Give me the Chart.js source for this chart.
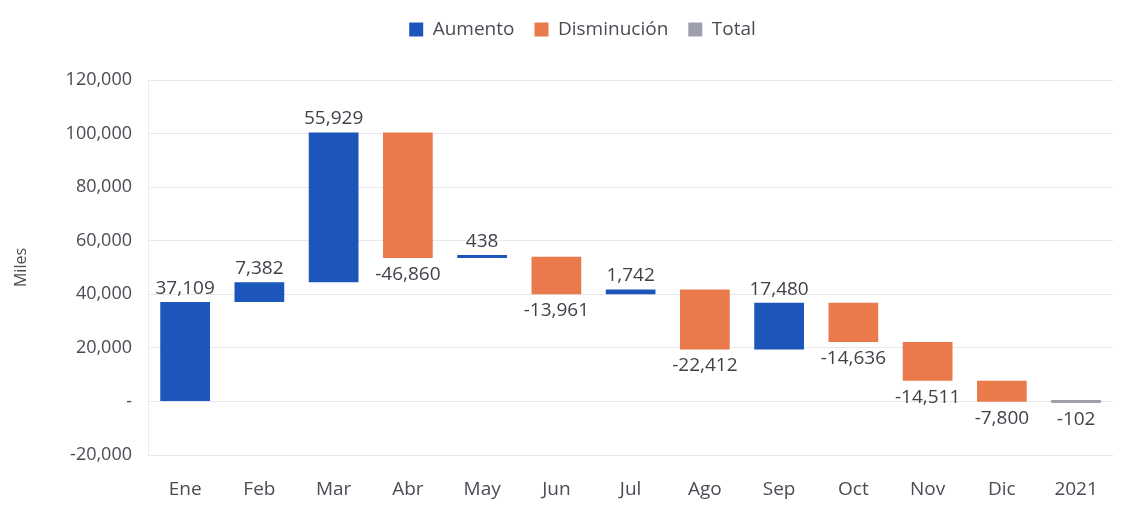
<!DOCTYPE html>
<html>
<head>
  <title>Cascada mensual</title>
  <style>
    body { margin: 0; background: #ffffff; }
    #wrap { width: 1121px; height: 505px; }
  </style>
  <script src="https://cdn.jsdelivr.net/npm/chart.js"></script>
</head>
<body>
  <div id="wrap"><canvas id="chart" width="1121" height="505"></canvas></div>

  <script>
    // datos
    const meses = ['Ene', 'Feb', 'Mar', 'Abr', 'May', 'Jun', 'Jul', 'Ago', 'Sep', 'Oct', 'Nov', 'Dic', '2021'];
    const variaciones = [37109, 7382, 55929, -46860, 438, -13961, 1742, -22412, 17480, -14636, -14511, -7800];
    const total = -102;
    const yTicks = [-20000, 0, 20000, 40000, 60000, 80000, 100000, 120000];

    // barras flotantes [inicio, fin] a partir de las variaciones
    const aumento = [];
    const disminucion = [];
    const totalData = [];
    let acum = 0;
    variaciones.forEach(function (v) {
      const inicio = acum;
      acum += v;
      aumento.push(v >= 0 ? [inicio, acum] : null);
      disminucion.push(v < 0 ? [inicio, acum] : null);
      totalData.push(null);
    });
    aumento.push(null);
    disminucion.push(null);
    totalData.push([0, total]);

    const etiquetas = variaciones.concat([total]);
    const fuente = '"Open Sans", Lato, sans-serif';
    const gris = '#4a4c54';

    // valores encima / debajo de cada barra
    const etiquetasPlugin = {
      id: 'etiquetas',
      afterDatasetsDraw(chart) {
        const ctx = chart.ctx;
        ctx.save();
        ctx.font = '19px ' + fuente;
        ctx.fillStyle = '#404249';
        ctx.textAlign = 'center';
        chart.data.datasets.forEach(function (ds, di) {
          const meta = chart.getDatasetMeta(di);
          meta.data.forEach(function (bar, i) {
            if (ds.data[i] == null) return;
            const v = etiquetas[i];
            const arriba = Math.min(bar.y, bar.base);
            const abajo = Math.max(bar.y, bar.base);
            const txt = v.toLocaleString('en-US');
            if (v >= 0) {
              ctx.textBaseline = 'bottom';
              ctx.fillText(txt, bar.x, arriba - 4);
            } else {
              ctx.textBaseline = 'top';
              ctx.fillText(txt, bar.x, abajo + 7);
            }
          });
        });
        ctx.restore();
      }
    };

    // mas espacio bajo la leyenda y un poco desplazada a la derecha
    const leyendaPlugin = {
      id: 'leyendaAlta',
      beforeInit(chart) {
        const fitOrig = chart.legend.fit;
        chart.legend.fit = function () {
          fitOrig.bind(chart.legend)();
          this.height += 31;
        };
      },
      afterLayout(chart) {
        chart.legend.left += 20;
        chart.legend.right += 20;
      }
    };

    new Chart(document.getElementById('chart'), {
      type: 'bar',
      data: {
        labels: meses,
        datasets: [
          { label: 'Aumento', data: aumento, backgroundColor: '#1d56bb', minBarLength: 3 },
          { label: 'Disminución', data: disminucion, backgroundColor: '#ea7a4b', minBarLength: 3 },
          { label: 'Total', data: totalData, backgroundColor: '#9d9fae', minBarLength: 3 }
        ]
      },
      options: {
        responsive: false,
        animation: false,
        layout: { padding: { top: 0, right: 4, bottom: 0, left: 8 } },
        datasets: { bar: { grouped: false, categoryPercentage: 1, barPercentage: 0.67 } },
        plugins: {
          legend: {
            position: 'top',
            labels: {
              boxWidth: 14,
              boxHeight: 14,
              padding: 20,
              color: gris,
              font: { family: fuente, size: 19 }
            }
          },
          tooltip: { enabled: false }
        },
        scales: {
          x: {
            afterFit(axis) { axis.height = 50; },
            grid: { display: false, drawTicks: false },
            border: { display: false },
            ticks: { color: gris, padding: 23, font: { family: fuente, size: 19 } }
          },
          y: {
            min: -20000,
            max: 120000,
            afterBuildTicks(axis) {
              axis.ticks = yTicks.map(function (v) { return { value: v }; });
            },
            afterFit(axis) { axis.width = 140; },
            grid: { color: '#e8e8eb', drawTicks: false },
            border: { display: true, color: '#ececee' },
            title: { display: true, text: 'Miles', color: gris, font: { family: fuente, size: 16 } },
            ticks: {
              color: gris,
              padding: 16,
              font: { family: fuente, size: 18 },
              callback: function (v) { return v === 0 ? '-' : v.toLocaleString('en-US'); }
            }
          }
        }
      },
      plugins: [etiquetasPlugin, leyendaPlugin]
    });
  </script>
</body>
</html>
